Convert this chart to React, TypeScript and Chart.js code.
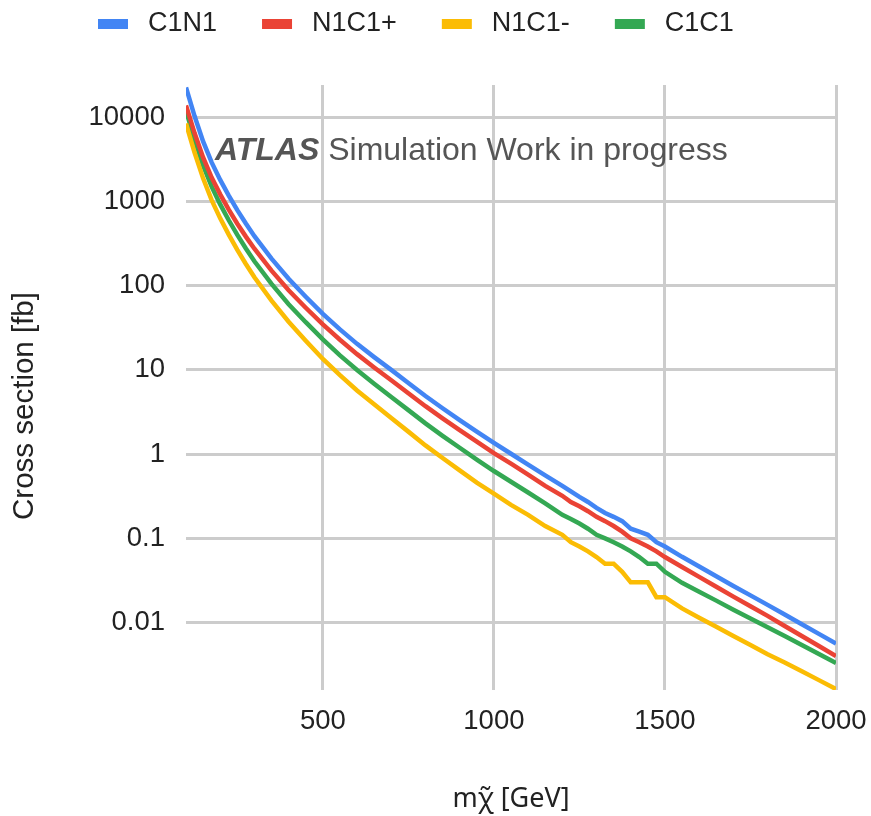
import React, { useEffect, useRef } from "react";
import { Chart, registerables } from "chart.js";

Chart.register(...registerables);

// ---------- data ----------
const masses = [
  100, 125, 150, 175, 200, 225, 250, 275, 300,
  350, 400, 450, 500, 550, 600, 650, 700, 750, 800, 850, 900, 950, 1000, 1050, 1100, 1150, 1200,
  1225, 1250, 1275, 1300, 1325, 1350, 1375, 1400, 1425, 1450, 1475, 1500,
  1550, 1600, 1650, 1700, 1750, 1800, 1850, 1900, 1950, 2000,
];

const c1n1 = [
  22650, 10350, 5176, 2917, 1807, 1175, 789, 547, 387,
  210, 121, 74.1, 46.3, 30.3, 20.4, 14.2, 10.0, 7.0, 4.9, 3.51, 2.54, 1.85, 1.36, 1.01, 0.75, 0.56, 0.42,
  0.36, 0.31, 0.27, 0.23, 0.2, 0.18, 0.16, 0.13, 0.12, 0.11, 0.09, 0.08,
  0.0603, 0.0462, 0.0355, 0.0272, 0.021, 0.0162, 0.01245, 0.00955, 0.00733, 0.00562,
];

const n1c1plus = [
  13840, 6500, 3344, 1922, 1216, 801, 545, 383, 275,
  151, 88.3, 54.8, 34.7, 22.8, 15.4, 10.7, 7.55, 5.29, 3.71, 2.66, 1.93, 1.41, 1.03, 0.77, 0.57, 0.42, 0.32,
  0.27, 0.24, 0.21, 0.18, 0.16, 0.14, 0.12, 0.1, 0.09, 0.08, 0.07, 0.06,
  0.0456, 0.0348, 0.0266, 0.0203, 0.0156, 0.012, 0.00909, 0.00691, 0.00526, 0.004,
];

const n1c1minus = [
  8470, 3819, 1884, 1038, 631, 404, 266, 181, 126,
  66.6, 37.3, 22.2, 13.5, 8.67, 5.71, 3.91, 2.69, 1.85, 1.27, 0.9, 0.64, 0.46, 0.34, 0.25, 0.19, 0.14, 0.11,
  0.09, 0.08, 0.07, 0.06, 0.05, 0.05, 0.04, 0.03, 0.03, 0.03, 0.02, 0.02,
  0.0147, 0.0114, 0.0089, 0.0069, 0.0054, 0.0042, 0.00336, 0.00264, 0.00207, 0.00162,
];

const c1c1 = [
  12070, 5444, 2686, 1502, 925, 599, 401, 277, 195,
  105, 60.3, 36.9, 23.1, 14.9, 9.96, 6.86, 4.78, 3.33, 2.32, 1.65, 1.19, 0.86, 0.63, 0.47, 0.35, 0.26, 0.19,
  0.17, 0.15, 0.13, 0.11, 0.1, 0.09, 0.08, 0.07, 0.06, 0.05, 0.05, 0.04,
  0.0296, 0.0232, 0.0182, 0.0142, 0.0112, 0.00881, 0.00692, 0.00541, 0.00422, 0.0033,
];

const seriesLabels = ["C1N1", "N1C1+", "N1C1-", "C1C1"];
const seriesColors = ["#4285F4", "#EA4335", "#FBBC04", "#34A853"];

const xTicks = [500, 1000, 1500, 2000];
const yTicks = [10000, 1000, 100, 10, 1, 0.1, 0.01];
const yTickLabels = ["10000", "1000", "100", "10", "1", "0.1", "0.01"];

const xTitle = "m\u03C7\u0303 [GeV]";
const yTitle = "Cross section [fb]";
const annotationBold = "ATLAS";
const annotationRest = "Simulation Work in progress";

const FONT = "'Liberation Sans', Arial, Helvetica, sans-serif";

// ---------- plugins ----------
const legendPlugin = {
  id: "customLegend",
  afterDraw(chart: any) {
    const ctx = chart.ctx;
    ctx.save();
    ctx.font = `27px ${FONT}`;
    ctx.textBaseline = "middle";
    ctx.textAlign = "left";
    let x = 98;
    const y = 24;
    chart.data.datasets.forEach((ds: any) => {
      ctx.fillStyle = ds.borderColor;
      ctx.fillRect(x, y - 5, 30, 10);
      x += 50;
      ctx.fillStyle = "#222222";
      ctx.fillText(ds.label, x, y);
      x += ctx.measureText(ds.label).width + 45;
    });
    ctx.restore();
  },
};

const annotationPlugin = {
  id: "atlasText",
  afterDatasetsDraw(chart: any) {
    const ctx = chart.ctx;
    ctx.save();
    ctx.fillStyle = "#555555";
    ctx.textBaseline = "alphabetic";
    ctx.textAlign = "left";
    ctx.font = `italic bold 32px ${FONT}`;
    const x0 = 215;
    const y0 = 160;
    ctx.fillText(annotationBold, x0, y0);
    const w = ctx.measureText(annotationBold).width;
    ctx.font = `32px ${FONT}`;
    const sp = ctx.measureText(" ").width;
    ctx.fillText(annotationRest, x0 + w + sp, y0);
    ctx.restore();
  },
};

const yTitlePlugin = {
  id: "yTitle",
  afterDraw(chart: any) {
    const ctx = chart.ctx;
    ctx.save();
    ctx.translate(25, 406);
    ctx.rotate(-Math.PI / 2);
    ctx.font = `29.5px ${FONT}`;
    ctx.fillStyle = "#222222";
    ctx.textAlign = "center";
    ctx.textBaseline = "middle";
    ctx.fillText(yTitle, 0, 0);
    ctx.restore();
  },
};

export default function App() {
  const ref = useRef<HTMLCanvasElement | null>(null);

  useEffect(() => {
    document.body.style.margin = "0";
    const canvas = ref.current;
    if (!canvas) return;
    const series = [c1n1, n1c1plus, n1c1minus, c1c1];
    const chart = new Chart(canvas, {
      type: "line",
      data: {
        datasets: series.map((vals, i) => ({
          label: seriesLabels[i],
          data: masses.map((m, j) => ({ x: m, y: vals[j] })),
          borderColor: seriesColors[i],
          backgroundColor: seriesColors[i],
          borderWidth: 4.5,
          pointRadius: 0,
          tension: 0,
          fill: false,
        })),
      },
      options: {
        animation: false,
        responsive: false,
        devicePixelRatio: 1,
        layout: { padding: { top: 85, right: 35, left: 0, bottom: 0 } },
        plugins: {
          legend: { display: false },
          tooltip: { enabled: false },
        },
        scales: {
          x: {
            type: "linear",
            min: 100,
            max: 2000,
            afterBuildTicks: (scale: any) => {
              scale.ticks = xTicks.map((v) => ({ value: v }));
            },
            afterFit: (scale: any) => {
              scale.height = 126;
              scale.paddingLeft = 0;
              scale.paddingRight = 0;
            },
            ticks: {
              autoSkip: false,
              maxRotation: 0,
              padding: 15,
              color: "#222222",
              font: { family: FONT, size: 27.5 },
              callback: (v: any) => String(v),
            },
            grid: { color: "#cccccc", lineWidth: 3, drawTicks: false },
            border: { display: false },
            title: {
              display: true,
              text: xTitle,
              color: "#222222",
              font: { family: "'Noto Sans', 'DejaVu Sans', sans-serif", size: 27 },
              padding: { top: 0, bottom: 0 },
            },
          },
          y: {
            type: "logarithmic",
            min: 0.00158,
            max: 24200,
            afterBuildTicks: (scale: any) => {
              scale.ticks = yTicks.map((v) => ({ value: v }));
            },
            afterFit: (scale: any) => {
              scale.width = 186;
              scale.paddingTop = 0;
              scale.paddingBottom = 0;
            },
            ticks: {
              autoSkip: false,
              padding: 21,
              color: "#222222",
              font: { family: FONT, size: 27.5 },
              callback: (_v: any, i: number) => yTickLabels[i],
            },
            grid: { color: "#cccccc", lineWidth: 3, drawTicks: false },
            border: { display: false },
          },
        },
      },
      plugins: [legendPlugin, annotationPlugin, yTitlePlugin],
    } as any);
    return () => chart.destroy();
  }, []);

  return (
    <div style={{ width: 871, height: 816, background: "#ffffff" }}>
      <canvas ref={ref} width={871} height={816} style={{ display: "block" }} />
    </div>
  );
}
